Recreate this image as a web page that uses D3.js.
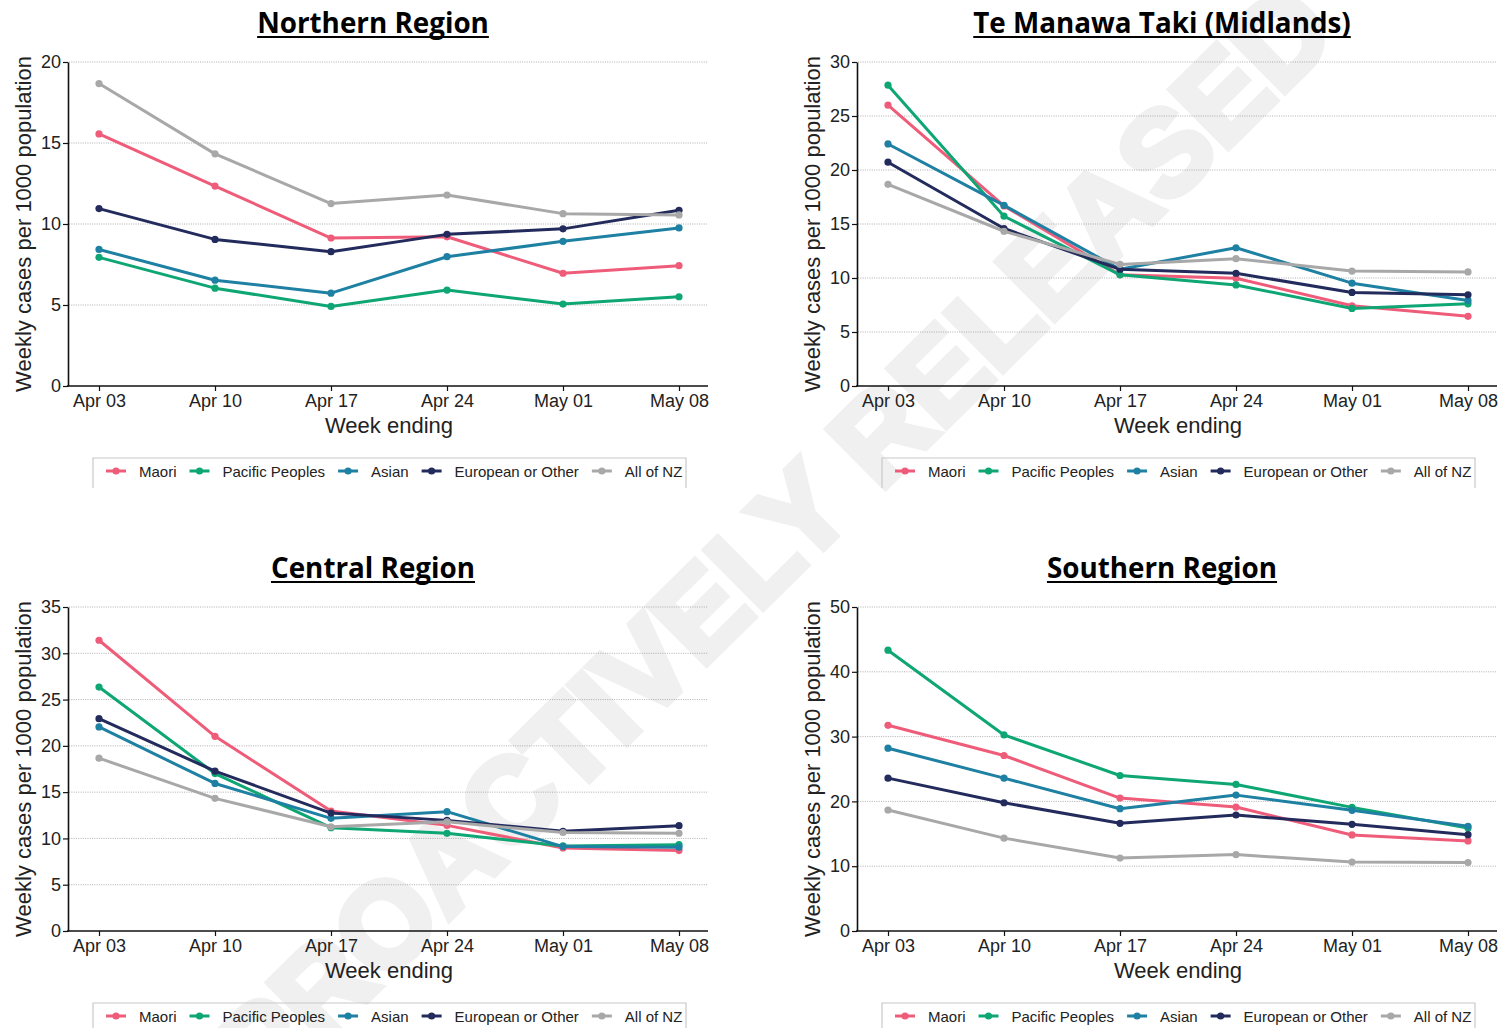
<!DOCTYPE html>
<html><head><meta charset="utf-8">
<script src="https://cdn.jsdelivr.net/npm/d3@7"></script>
<style>body{margin:0;background:#fff;} svg{display:block}</style>
</head><body>
<svg id="chart" width="1500" height="1028"></svg>
<script>
const weeks = ["Apr 03","Apr 10","Apr 17","Apr 24","May 01","May 08"];
const groups = ["Maori","Pacific Peoples","Asian","European or Other","All of NZ"];
const groupColors = ["#EF5C79","#0EA674","#1E80A2","#232B5D","#A8A8A8"];
const regions = ["Northern Region","Te Manawa Taki (Midlands)","Central Region","Southern Region"];
const yMax = [20,30,35,50];
const yStep = [5,5,5,10];

// series order: Maori, Pacific Peoples, Asian, European or Other, All of NZ
const northern = [
  [15.56,12.34,9.13,9.21,6.96,7.43],
  [7.94,6.04,4.91,5.92,5.06,5.51],
  [8.43,6.53,5.73,7.98,8.93,9.76],
  [10.95,9.05,8.29,9.36,9.70,10.85],
  [18.67,14.33,11.26,11.79,10.64,10.56]
];
const midlands = [
  [26.0,16.67,10.29,9.98,7.43,6.45],
  [27.85,15.72,10.29,9.36,7.18,7.61],
  [22.41,16.73,10.81,12.80,9.52,7.92],
  [20.72,14.58,10.81,10.44,8.66,8.44],
  [18.67,14.33,11.26,11.79,10.64,10.56]
];
const central = [
  [31.41,21.03,12.96,11.41,8.97,8.69],
  [26.35,17.01,11.16,10.55,9.19,9.33],
  [22.04,15.94,12.17,12.89,9.12,9.05],
  [22.94,17.27,12.74,11.95,10.77,11.38],
  [18.67,14.33,11.26,11.79,10.64,10.56]
];
const southern = [
  [31.74,27.08,20.51,19.13,14.82,13.90],
  [43.33,30.26,24.00,22.62,19.08,15.90],
  [28.21,23.59,18.87,20.97,18.62,16.15],
  [23.59,19.79,16.62,17.90,16.46,14.87],
  [18.67,14.33,11.26,11.79,10.64,10.56]
];
const regionData = [northern, midlands, central, southern];

const offsets = [[0,0],[789,0],[0,545],[789,545]];
const svg = d3.select("#chart");
svg.append("rect").attr("width",1500).attr("height",1028).attr("fill","#fff");

const FONT = "'Liberation Sans', Arial, sans-serif";

// watermark (behind the charts)
svg.append("text").attr("transform","translate(773,540) rotate(-44.7)")
  .attr("text-anchor","middle").attr("dominant-baseline","central")
  .style("font-family",FONT).style("font-weight","700").style("font-size","119px")
  .attr("fill","#f0f0f0").attr("stroke","#f0f0f0").attr("stroke-width",7).attr("stroke-linejoin","miter")
  .text("PROACTIVELY RELEASED");

regions.forEach((title,i)=>{
  const g = svg.append("g").attr("transform",`translate(${offsets[i][0]},${offsets[i][1]})`);
  const x = d3.scalePoint().domain(weeks).range([99,679]);
  const y = d3.scaleLinear().domain([0,yMax[i]]).range([386,62]);
  const ticks = d3.range(0, yMax[i]+0.001, yStep[i]);

  // grid
  g.selectAll(".grid").data(ticks.filter(t=>t>0)).join("line")
    .attr("x1",69).attr("x2",708).attr("y1",d=>y(d)).attr("y2",d=>y(d))
    .attr("stroke","#9a9a9a").attr("stroke-width",0.8).attr("stroke-dasharray","1,1.3");

  // y axis
  const ya = g.append("g").attr("transform","translate(68,0)")
    .call(d3.axisLeft(y).tickValues(ticks).tickSize(5).tickSizeOuter(0).tickPadding(2));
  ya.select(".domain").attr("stroke","#111").attr("stroke-width",1.6);
  ya.selectAll(".tick line").attr("stroke","#111").attr("stroke-width",1.2);
  ya.selectAll(".tick text").style("font-family",FONT).style("font-size","18px").attr("fill","#222");

  // x axis
  const xa = g.append("g").attr("transform","translate(0,386)")
    .call(d3.axisBottom(x).tickSize(5).tickSizeOuter(0).tickPadding(3));
  xa.select(".domain").remove();
  xa.append("line").attr("x1",67).attr("x2",708).attr("stroke","#111").attr("stroke-width",1.6);
  xa.selectAll(".tick line").attr("stroke","#111").attr("stroke-width",1.2);
  xa.selectAll(".tick text").style("font-family",FONT).style("font-size","18px").attr("fill","#222");

  // axis titles
  g.append("text").attr("x",389).attr("y",433).attr("text-anchor","middle")
    .style("font-family",FONT).style("font-size","22px").attr("fill","#222").text("Week ending");
  g.append("text").attr("transform","translate(31,224) rotate(-90)").attr("text-anchor","middle")
    .style("font-family",FONT).style("font-size","22px").attr("fill","#222").text("Weekly cases per 1000 population");

  // title
  const t = g.append("text").attr("x",373).attr("y",33).attr("text-anchor","middle")
    .style("font-family","'Open Sans', 'Noto Sans', sans-serif").style("font-weight","700").style("font-size","27.8px")
    .attr("fill","#000").text(title);
  const bb = t.node().getBBox();
  g.append("line").attr("x1",bb.x).attr("x2",bb.x+bb.width).attr("y1",37).attr("y2",37)
    .attr("stroke","#000").attr("stroke-width",2.2);

  // lines
  const line = d3.line().x((d,j)=>x(weeks[j])).y(d=>y(d));
  regionData[i].forEach((vals,k)=>{
    g.append("path").datum(vals).attr("d",line).attr("fill","none")
      .attr("stroke",groupColors[k]).attr("stroke-width",3).attr("stroke-linejoin","round");
    g.selectAll(null).data(vals).join("circle")
      .attr("cx",(d,j)=>x(weeks[j])).attr("cy",d=>y(d)).attr("r",3.6).attr("fill",groupColors[k]);
  });

  // legend
  g.append("path").attr("d","M93,488V458H686V488").attr("fill","none").attr("stroke","#c8c8c8").attr("stroke-width",1.2);
  let lx = 106;
  groups.forEach((name,k)=>{
    g.append("line").attr("x1",lx).attr("x2",lx+20).attr("y1",471).attr("y2",471)
      .attr("stroke",groupColors[k]).attr("stroke-width",3);
    g.append("circle").attr("cx",lx+10).attr("cy",471).attr("r",3.6).attr("fill",groupColors[k]);
    const tx = g.append("text").attr("x",lx+33).attr("y",476.5)
      .style("font-family",FONT).style("font-size","15px").attr("fill","#222").text(name);
    lx = lx + 33 + tx.node().getComputedTextLength() + 13;
  });
});
</script>
</body></html>
